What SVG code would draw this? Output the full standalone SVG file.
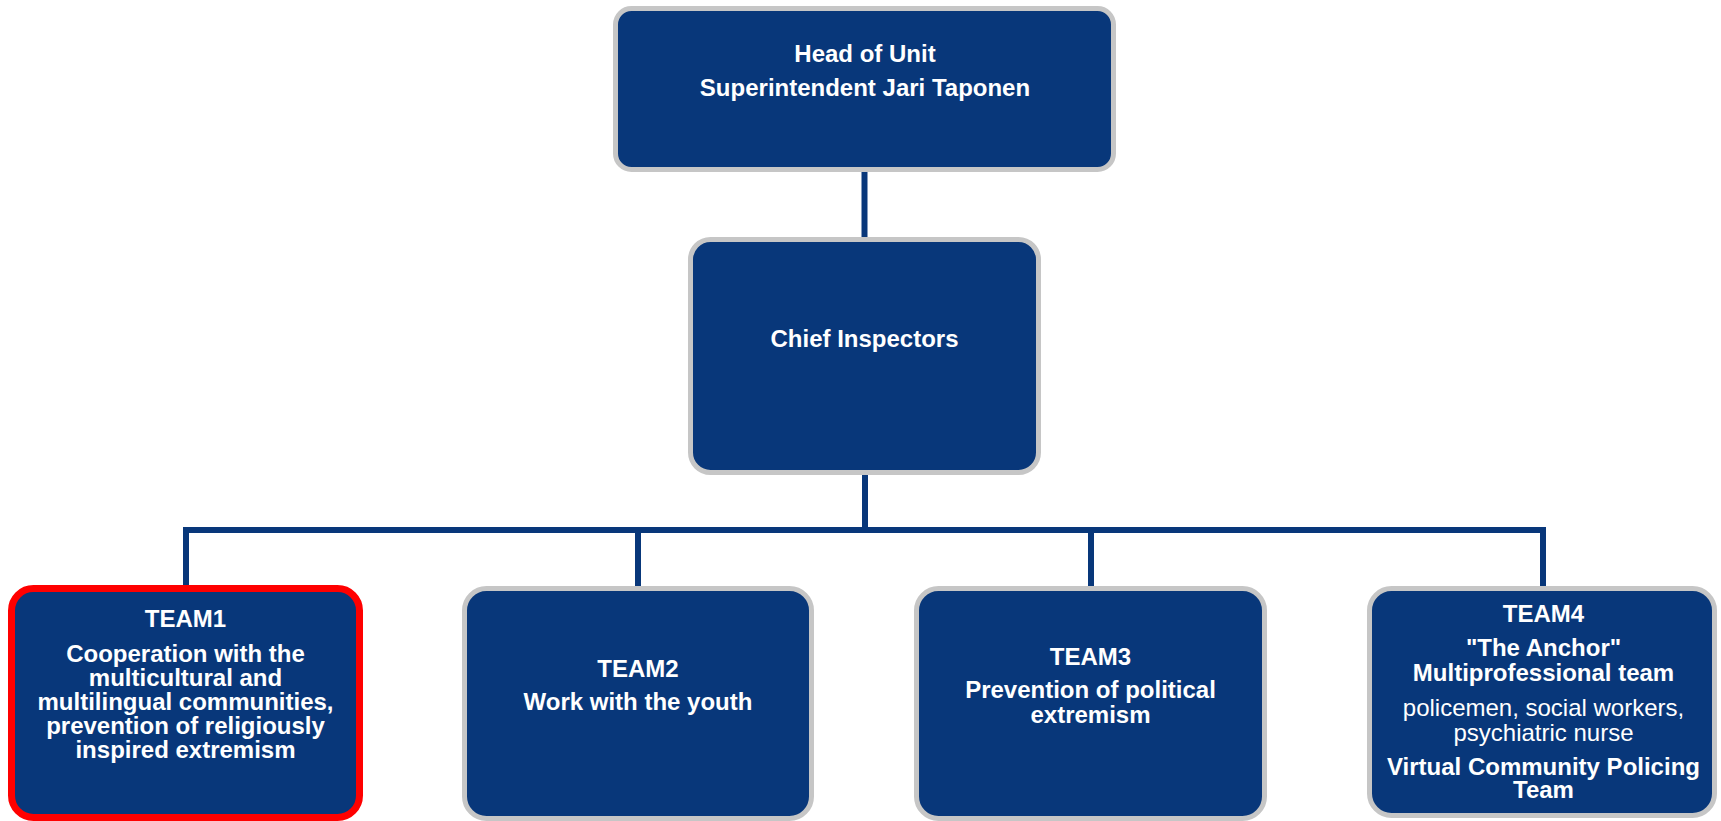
<svg xmlns="http://www.w3.org/2000/svg" width="1721" height="821" viewBox="0 0 1721 821">
<style>
.box{fill:#08377a;stroke:#c6c6c6;stroke-width:5}
.red{stroke:#ff0000;stroke-width:7}
.t{font-family:"Liberation Sans",Arial,sans-serif;font-size:24px;font-weight:bold;fill:#ffffff;text-anchor:middle}
.n{font-weight:normal}
.c{fill:none;stroke:#08377a;stroke-width:6;stroke-linejoin:miter;stroke-linecap:butt}
</style>
<rect width="1721" height="821" fill="#ffffff"/>
<g id="connectors">
<line class="c" x1="864.5" y1="170" x2="864.5" y2="240"/>
<line class="c" x1="865" y1="473" x2="865" y2="530"/>
<path class="c" d="M186 589 V530 H1543 V589"/>
<line class="c" x1="638" y1="530" x2="638" y2="589"/>
<line class="c" x1="1091" y1="530" x2="1091" y2="589"/>
</g>
<g id="head">
<rect class="box" x="615.5" y="8.5" width="498" height="161" rx="16"/>
<text class="t" x="865" y="62">Head of Unit</text>
<text class="t" x="865" y="96">Superintendent Jari Taponen</text>
</g>
<g id="chief">
<rect class="box" x="690.5" y="239.5" width="348" height="233" rx="20"/>
<text class="t" x="864.5" y="347">Chief Inspectors</text>
</g>
<g id="team1">
<rect class="box red" x="11.5" y="588.5" width="348" height="229" rx="22"/>
<text class="t" x="185.5" y="627">TEAM1</text>
<text class="t" x="185.5" y="662">Cooperation with the</text>
<text class="t" x="185.5" y="686">multicultural and</text>
<text class="t" x="185.5" y="710">multilingual communities,</text>
<text class="t" x="185.5" y="734">prevention of religiously</text>
<text class="t" x="185.5" y="758">inspired extremism</text>
</g>
<g id="team2">
<rect class="box" x="464.5" y="588.5" width="347" height="230" rx="22"/>
<text class="t" x="638" y="677">TEAM2</text>
<text class="t" x="638" y="710">Work with the youth</text>
</g>
<g id="team3">
<rect class="box" x="916.5" y="588.5" width="348" height="230" rx="22"/>
<text class="t" x="1090.5" y="665">TEAM3</text>
<text class="t" x="1090.5" y="698">Prevention of political</text>
<text class="t" x="1090.5" y="723">extremism</text>
</g>
<g id="team4">
<rect class="box" x="1369.5" y="588.5" width="345" height="227" rx="22"/>
<text class="t" x="1543.5" y="622">TEAM4</text>
<text class="t" x="1543.5" y="656">"The Anchor"</text>
<text class="t" x="1543.5" y="681">Multiprofessional team</text>
<text class="t n" x="1543.5" y="716">policemen, social workers,</text>
<text class="t n" x="1543.5" y="741">psychiatric nurse</text>
<text class="t" x="1543.5" y="775">Virtual Community Policing</text>
<text class="t" x="1543.5" y="798">Team</text>
</g>
</svg>
